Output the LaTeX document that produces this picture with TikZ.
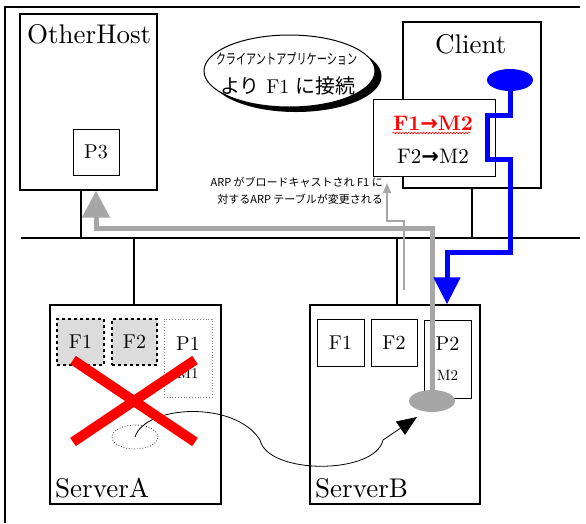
\documentclass[tikz,border=0pt]{standalone}
\usepackage{fontspec}
\setmainfont{lmroman10}[Extension=.otf, UprightFont=*-regular, BoldFont=*-bold, ItalicFont=*-italic, BoldItalicFont=*-bolditalic]
\newfontfamily\jp{Noto Sans CJK JP}
\newfontfamily\dv{DejaVu Sans}
\usetikzlibrary{arrows.meta,decorations.pathmorphing,shapes.geometric}
\definecolor{arrgray}{HTML}{A6A6A6}
\definecolor{boxgray}{HTML}{DCDCDC}
\definecolor{pblue}{HTML}{0000FF}
\tikzset{
  host/.style={draw, line width=1.4pt, inner sep=0pt},
  wire/.style={line width=1.2pt},
  port/.style={draw, line width=0.9pt, inner sep=0pt, font=\fontsize{20}{24}\selectfont},
  plabel/.style={inner sep=0pt, font=\fontsize{20}{24}\selectfont},
  mlabel/.style={inner sep=0pt, font=\fontsize{15}{18}\selectfont},
  biglabel/.style={inner sep=0pt, anchor=base west, font=\fontsize{27}{32}\selectfont},
  thickgray/.style={draw=arrgray, line width=5pt},
  thickblue/.style={draw=pblue, line width=5pt},
}
\begin{document}
\begin{tikzpicture}[x=1pt,y=-1pt]
\useasboundingbox (0,0) rectangle (586,523);
% outer frame
\draw[line width=1.2pt] (5,523) -- (5,7) -- (580,7);
% bus
\coordinate (busL) at (21,238);
\coordinate (busR) at (580,238);
\draw[wire] (busL) -- (busR);
% hosts
\node[host, minimum width=137pt, minimum height=176pt] (oh) at (88.5,102) {};
\node[biglabel] (ohl) at (27,43) {OtherHost};
\node[port, minimum width=46pt, minimum height=46pt] (p3) at (96,152) {P3};
\node[host, minimum width=138pt, minimum height=166pt] (cl) at (472,105) {};
\node[biglabel] (cll) at (435,53) {Client};
\node[host, minimum width=171pt, minimum height=199pt] (sa) at (135.5,404.5) {};
\node[biglabel] (sal) at (55,497) {ServerA};
\node[host, minimum width=170pt, minimum height=199pt] (sb) at (395,404.5) {};
\node[biglabel] (sbl) at (315,497) {ServerB};
% stubs
\coordinate (ohb) at (81,238);
\coordinate (sab) at (134,238);
\coordinate (sbb) at (397,238);
\coordinate (clb) at (472,238);
\draw[wire] (ohb) -- (ohb |- oh.south);
\draw[wire] (sab) -- (sab |- sa.north);
\draw[wire] (sbb) -- (sbb |- sb.north);
\draw[wire] (clb) -- (clb |- cl.south);
% bubble
\node[ellipse, fill=black, minimum width=171pt, minimum height=72pt, inner sep=0pt] (bubs) at (296,76) {};
\node[ellipse, draw, fill=white, line width=1pt, minimum width=171pt, minimum height=72pt, inner sep=0pt] (bub) at (289.5,71) {};
\node[anchor=base, inner sep=0pt] (bt1) at (286.5,64) {\scalebox{0.7}[1]{\jp\fontsize{14.5}{16}\selectfont クライアントアプリケーション}};
\node[anchor=base, inner sep=0pt, font=\fontsize{20}{24}\selectfont] (bt2) at (288,93) {{\jp より} F1 {\jp に接続}};
% ARP table
\node[draw, line width=1pt, fill=white, minimum width=122pt, minimum height=77pt, inner sep=0pt] (tbl) at (434,137.5) {};
\node[anchor=base, inner sep=0pt, text=red, font=\fontsize{21}{24}\selectfont\bfseries] (t1) at (433,130) {F1{\dv\bfseries →}M2};
\draw[red, line width=0.6pt, decorate, decoration={snake, amplitude=0.8pt, segment length=3pt}] (t1.base west) ++(0,3) -- ++(77,0);
\node[anchor=base, inner sep=0pt, font=\fontsize{21}{24}\selectfont] (t2) at (433,163) {F2{\dv\bfseries →}M2};
% ServerA ports
\node[port, dashed, line width=1.4pt, fill=boxgray, minimum width=47pt, minimum height=46pt] (af1) at (80.5,342) {F1};
\node[port, dashed, line width=1.4pt, fill=boxgray, minimum width=45pt, minimum height=46pt] (af2) at (134.5,342) {F2};
\node[draw=gray, dotted, line width=0.8pt, minimum width=48pt, minimum height=78pt, inner sep=0pt] (ap1) at (188,358) {};
\node[plabel] (ap1l) at (188,344) {P1};
\node[mlabel] (ap1m) at (188,373) {M1};
% ServerB ports
\node[port, minimum width=47pt, minimum height=47pt] (bf1) at (340.5,342.5) {F1};
\node[port, minimum width=46pt, minimum height=47pt] (bf2) at (394,342.5) {F2};
\node[port, minimum width=47pt, minimum height=78pt] (bp2) at (447.5,359) {};
\node[plabel] (bp2l) at (447.5,344) {P2};
\node[mlabel] (bp2m) at (447.5,375) {M2};
% ARP text
\node[anchor=north east, align=right, inner sep=0pt, font=\jp\fontsize{11}{17}\selectfont] (arp) at (383,177) {ARP がブロードキャストされ F1 に\\対するARP テーブルが変更される};
% thin gray arrow
\coordinate (ts) at (404,290);
\coordinate (ta) at (404,221);
\coordinate (tb) at (387,221);
\coordinate (tc) at (387,183);
\draw[draw=arrgray, line width=1.6pt, -{Triangle[width=8pt,length=10pt]}] (ts) -- (ta) -- (tb) -- (tc);
% gray thick path
\node[ellipse, fill=arrgray, minimum width=46pt, minimum height=22pt, inner sep=0pt] (gb) at (432,401) {};
\coordinate (g1) at (432,228);
\coordinate (g2) at (96,228);
\draw[thickgray, -{Triangle[width=27pt,length=27pt]}] (gb.center) -- (g1) -- (g2) -- (g2 |- oh.south);
% blue path
\node[ellipse, fill=pblue, minimum width=46pt, minimum height=22pt, inner sep=0pt] (cb) at (510,80) {};
\coordinate (b1) at (510,115);
\coordinate (b2) at (487,115);
\coordinate (b3) at (487,159);
\coordinate (b4) at (510,159);
\coordinate (b5) at (510,252);
\coordinate (b6) at (447,252);
\draw[thickblue, -{Triangle[width=26pt,length=27pt]}] (cb.center) -- (b1) -- (b2) -- (b3) -- (b4) -- (b5) -- (b6) -- (b6 |- sb.north);
% migration curve
\node[ellipse, draw, dotted, line width=0.7pt, minimum width=46pt, minimum height=24pt, inner sep=0pt] (de) at (135,437) {};
\coordinate (cend) at (417,417);
\draw[line width=0.8pt, -{Triangle[width=16pt,length=20pt]}] (de.center) .. controls (145,405) and (235,400) .. (260,440) .. controls (268,475) and (375,475) .. (383,440) -- (cend);
% red X
\draw[red, line width=10pt] (73,360) -- (195,442);
\draw[red, line width=10pt] (195,360) -- (73,442);
\end{tikzpicture}
\end{document}
